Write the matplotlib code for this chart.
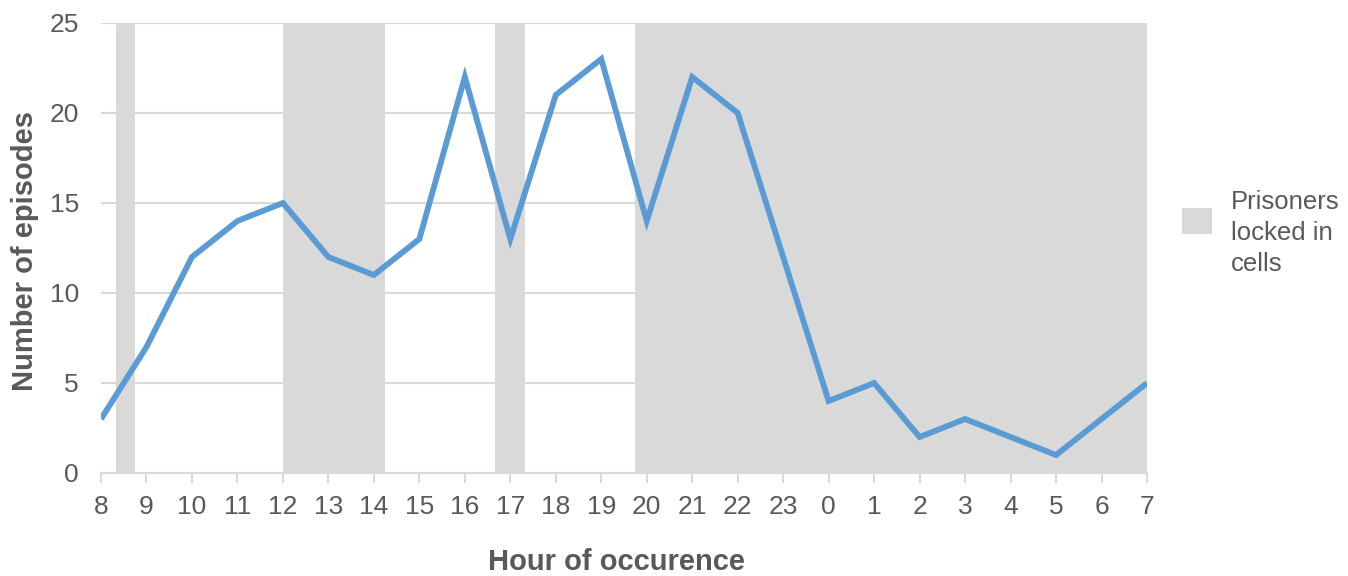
import matplotlib
matplotlib.use("Agg")
import matplotlib.pyplot as plt
from matplotlib.patches import Rectangle

hours = [8, 9, 10, 11, 12, 13, 14, 15, 16, 17, 18, 19, 20, 21, 22, 23, 0, 1, 2, 3, 4, 5, 6, 7]
episodes = [3, 7, 12, 14, 15, 12, 11, 13, 22, 13, 21, 23, 14, 22, 20, 12, 4, 5, 2, 3, 2, 1, 3, 5]
# lock-in periods as offsets (hours since 08:00)
lock_start = [20/60, 4.0, 8 + 40/60, 11.75]
lock_end = [45/60, 6.25, 9 + 20/60, 23.0]
legend_label = "Prisoners\nlocked in\ncells"

plt.rcParams['font.family'] = ['Liberation Sans', 'DejaVu Sans']
grey = '#595959'
shade = '#d9d9d9'

fig = plt.figure(figsize=(13.48, 5.76), dpi=100)
ax = fig.add_axes([101/1348, 1 - 473/576, (1147-101)/1348, (473-23)/576])

x = list(range(len(hours)))
for s, e in zip(lock_start, lock_end):
    ax.axvspan(s, e, color=shade, lw=0, zorder=1)

ax.plot(x, episodes, color='#5b9bd5', lw=4.2, zorder=3, solid_joinstyle='miter', solid_capstyle='butt')

ax.set_xlim(0, len(hours) - 1)
ax.set_ylim(0, 25)
ax.set_yticks([0, 5, 10, 15, 20, 25])
ax.set_xticks(x)
ax.set_xticklabels([str(h) for h in hours])
ax.yaxis.grid(True, color='#d9d9d9', lw=1.5, zorder=0)
ax.set_axisbelow(True)
for sp in ['top', 'right', 'left']:
    ax.spines[sp].set_visible(False)
ax.spines['bottom'].set_color('#d9d9d9')
ax.spines['bottom'].set_linewidth(1.5)
ax.spines['bottom'].set_zorder(0.5)
ax.tick_params(axis='x', colors='#d9d9d9', length=7, width=1.5, labelcolor=grey, labelsize=19, pad=9)
ax.tick_params(axis='y', length=0, labelcolor=grey, labelsize=19, pad=16)

fig.text(616/1348, 1 - 562/576, 'Hour of occurence', ha='center', va='center',
         fontsize=21, fontweight='bold', color=grey)
fig.text(25/1348, 1 - 251/576, 'Number of episodes', ha='center', va='center',
         rotation=90, fontsize=21, fontweight='bold', color=grey)

fig.patches.append(Rectangle((1182/1348, 1 - 234/576), 30/1348, 26/576,
                             transform=fig.transFigure, color=shade, lw=0))
fig.text(1231/1348, 1 - 233/576, legend_label, ha='left', va='center',
         fontsize=18.5, color=grey, linespacing=1.36)

fig.savefig('out.png', dpi=100)
